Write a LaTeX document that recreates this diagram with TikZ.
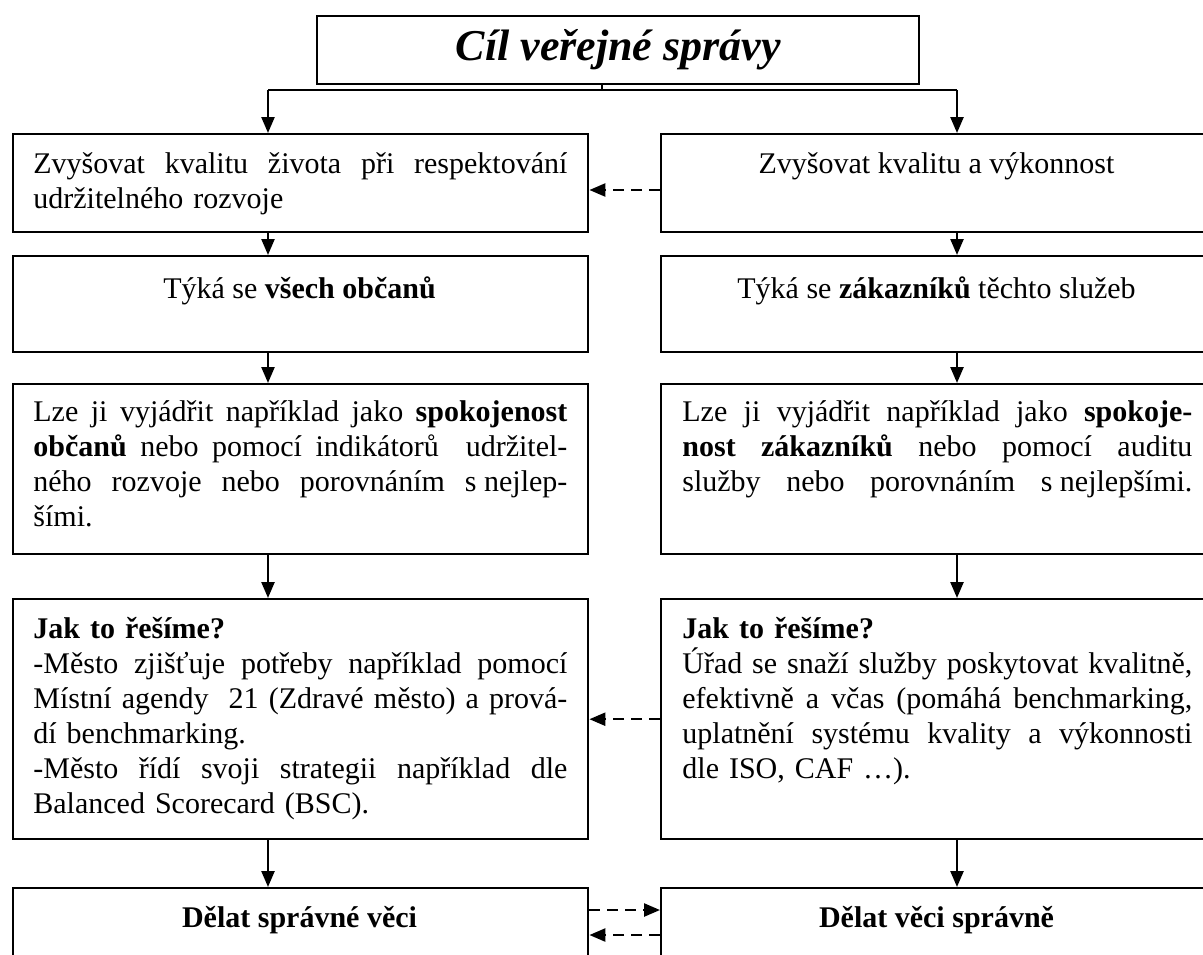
\documentclass[tikz,border=0pt]{standalone}
\usepackage{fontspec}
\setmainfont{Liberation Serif}
\usetikzlibrary{arrows.meta}
\newcommand{\jl}[2][267pt]{\leavevmode\hbox to #1{\spaceskip=0.25em plus 1em minus 0.05em\xspaceskip=\spaceskip #2}}
\begin{document}
\begin{tikzpicture}[x=0.5pt,y=-0.5pt,
  box/.style={draw,line width=1.2pt,inner sep=0pt,anchor=north west},
  txt/.style={inner sep=0pt,anchor=base west,font=\fontsize{15pt}{17.5pt}\selectfont,align=left},
  ctxt/.style={inner sep=0pt,anchor=base,font=\fontsize{15pt}{17.5pt}\selectfont},
  arr/.style={line width=1.2pt,-{Triangle[length=8pt,width=6.5pt]}},
  darr/.style={arr,dash pattern=on 5.5pt off 3.5pt},
  conn/.style={line width=1.4pt}]
\useasboundingbox (0,0) rectangle (1203,954);
\clip (0,0) rectangle (1203,954);
% title
\node[box,minimum width=301pt,minimum height=34pt,font=\fontsize{22pt}{25pt}\selectfont\bfseries\itshape] (title) at (316,15) {Cíl veřejné správy};
% boxes
\node[box,minimum width=287.5pt,minimum height=49pt] (L1) at (12,133) {};
\node[box,minimum width=276.5pt,minimum height=49pt] (R1) at (660,133) {};
\node[box,minimum width=287.5pt,minimum height=48pt] (L2) at (12,255) {};
\node[box,minimum width=276.5pt,minimum height=48pt] (R2) at (660,255) {};
\node[box,minimum width=287.5pt,minimum height=85pt] (L3) at (12,383) {};
\node[box,minimum width=276.5pt,minimum height=85pt] (R3) at (660,383) {};
\node[box,minimum width=287.5pt,minimum height=120pt] (L4) at (12,598) {};
\node[box,minimum width=276.5pt,minimum height=120pt] (R4) at (660,598) {};
\node[box,minimum width=287.5pt,minimum height=75pt] (L5) at (12,887) {};
\node[box,minimum width=276.5pt,minimum height=75pt] (R5) at (660,887) {};
% texts
\node[txt,text width=267pt] (L1t) at (33,173) {\jl{Zvyšovat kvalitu života při respektování}\\udržitelného rozvoje};
\node[ctxt] (R1t) at (936.5,173) {Zvyšovat kvalitu a výkonnost};
\node[ctxt] (L2t) at (299.5,298) {Týká se \textbf{všech občanů}};
\node[ctxt] (R2t) at (936.5,298) {Týká se \textbf{zákazníků} těchto služeb};
\node[txt,text width=267pt] (L3t) at (33,421) {\jl{Lze ji vyjádřit například jako \textbf{spokojenost}}\\
\jl{\textbf{občanů} nebo pomocí indikátorů\ \ udržitel-}\\
\jl{ného rozvoje nebo porovnáním s\hspace{0.25em}nejlep-}\\
šími.};
\node[txt,text width=255pt] (R3t) at (682,421) {\jl[255pt]{Lze ji vyjádřit například jako \textbf{spokoje-}}\\
\jl[255pt]{\textbf{nost zákazníků} nebo pomocí auditu}\\
\jl[255pt]{služby nebo porovnáním s\hspace{0.25em}nejlepšími.}};
\node[txt,text width=267pt] (L4t) at (33,638) {\textbf{Jak to řešíme?}\\
\jl{-Město zjišťuje potřeby například pomocí}\\
\jl{Místní agendy\ \ 21 (Zdravé město) a prová-}\\
dí benchmarking.\\
\jl{-Město řídí svoji strategii například dle}\\
Balanced Scorecard (BSC).};
\node[txt,text width=255pt] (R4t) at (682,638) {\textbf{Jak to řešíme?}\\
\jl[255pt]{Úřad se snaží služby poskytovat kvalitně,}\\
\jl[255pt]{efektivně a včas (pomáhá benchmarking,}\\
\jl[255pt]{uplatnění systému kvality a výkonnosti}\\
dle ISO, CAF …).};
\node[ctxt] (L5t) at (299.5,927) {\textbf{Dělat správné věci}};
\node[ctxt] (R5t) at (936.5,927) {\textbf{Dělat věci správně}};
% connectors
\coordinate (jl) at (268,90);
\coordinate (jr) at (957,90);
\coordinate (jm) at (602,90);
\draw[conn] (jm |- title.south) -- (jm);
\draw[conn] (jl) -- (jr);
\draw[arr] (jl) -- (jl |- L1.north);
\draw[arr] (jr) -- (jr |- R1.north);
\draw[arr] (jl |- L1.south) -- (jl |- L2.north);
\draw[arr] (jr |- R1.south) -- (jr |- R2.north);
\draw[arr] (jl |- L2.south) -- (jl |- L3.north);
\draw[arr] (jr |- R2.south) -- (jr |- R3.north);
\draw[arr] (jl |- L3.south) -- (jl |- L4.north);
\draw[arr] (jr |- R3.south) -- (jr |- R4.north);
\draw[arr] (jl |- L4.south) -- (jl |- L5.north);
\draw[arr] (jr |- R4.south) -- (jr |- R5.north);
\coordinate (d1) at (0,190);
\coordinate (d5a) at (0,910);
\coordinate (d5b) at (0,935);
\draw[darr] (R1.west |- d1) -- (L1.east |- d1);
\draw[darr] (R4.west) -- (L4.east);
\draw[darr] (L5.east |- d5a) -- (R5.west |- d5a);
\draw[darr] (R5.west |- d5b) -- (L5.east |- d5b);
\end{tikzpicture}
\end{document}
